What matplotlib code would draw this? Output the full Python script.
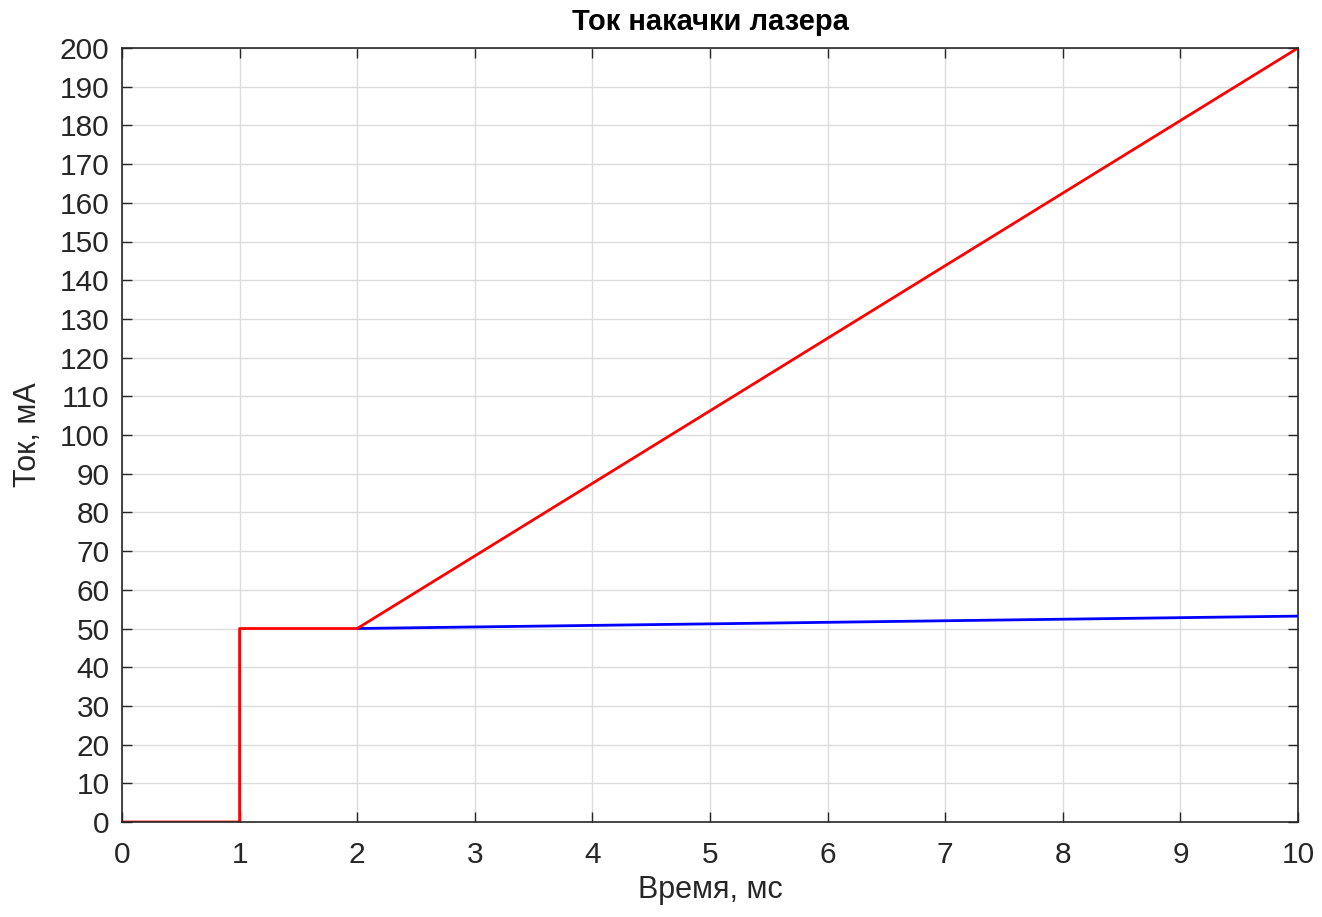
import matplotlib.pyplot as plt
import numpy as np

plt.rcParams['font.family'] = ['Liberation Sans', 'DejaVu Sans']

# pump current, red: step at 1 ms, then ramp
t_red = [0, 1, 1, 2, 10]
i_red = [0, 0, 50, 50, 200]
# blue: slow ramp after 2 ms
t_blue = [2, 10]
i_blue = [50, 53.2]

xticks = np.arange(0, 11, 1)
yticks = np.arange(0, 201, 10)

fig = plt.figure(figsize=(13.22, 9.17), dpi=100)
ax = fig.add_axes([122 / 1322, 95 / 917, 1176 / 1322, 774 / 917])

ax.plot(t_blue, i_blue, color='#0000ff', lw=2.0)
ax.plot(t_red, i_red, color='#ff0000', lw=2.0)

ax.set_xlim(0, 10)
ax.set_ylim(0, 200)
ax.set_xticks(xticks)
ax.set_yticks(yticks)
ax.grid(True, color='#dcdcdc', lw=1.0)
ax.set_axisbelow(True)

dark = '#262626'
for s in ax.spines.values():
    s.set_color(dark)
    s.set_linewidth(1.2)
ax.tick_params(direction='in', length=7, width=1.0, color=dark,
               labelcolor=dark, labelsize=21.5, top=True, right=True)
ax.tick_params(axis='x', pad=14)
ax.tick_params(axis='y', pad=9)

ax.set_title('Ток накачки лазера', fontsize=21, fontweight='bold', pad=13)
ax.set_xlabel('Время, мс', fontsize=22, color=dark, labelpad=4)
ax.set_ylabel('Ток, мА', fontsize=22, color=dark, labelpad=12)

fig.savefig('out.png', dpi=100)
